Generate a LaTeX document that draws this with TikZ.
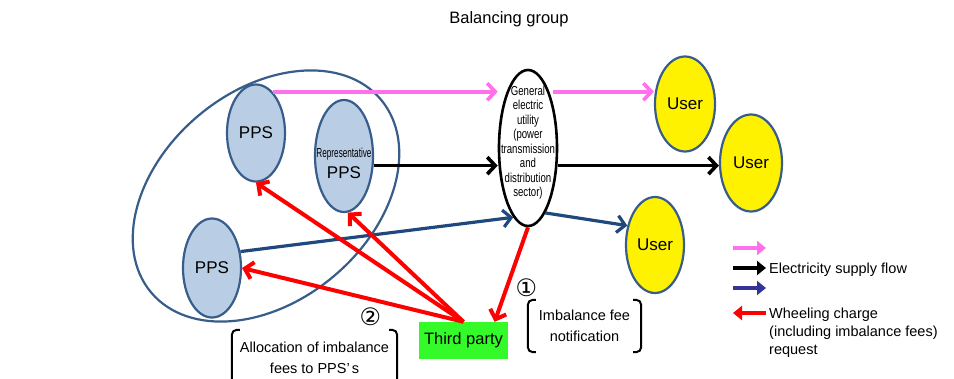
\documentclass[tikz,border=0pt]{standalone}
\usepackage{graphicx}
\usepackage{fontspec}
\setmainfont{Liberation Sans}
\newfontfamily\symfont{DejaVu Sans}
\usetikzlibrary{shapes.geometric,arrows.meta,calc}
\definecolor{pinkA}{RGB}{255,112,235}
\definecolor{navyA}{RGB}{31,73,125}
\definecolor{legblue}{RGB}{51,51,153}
\definecolor{ppsfill}{RGB}{185,205,228}
\definecolor{edgeblue}{RGB}{56,93,138}
\definecolor{tpgreen}{RGB}{51,250,40}
\definecolor{redA}{RGB}{255,0,0}
\newcommand{\zb}[1]{\makebox[0pt]{\smash{#1}}}
\begin{document}
\begin{tikzpicture}[x=1pt,y=-1pt,
  ell/.style={ellipse, draw=edgeblue, line width=2.2pt, inner sep=0pt},
  pps/.style={ell, fill=ppsfill, minimum width=58pt, minimum height=97pt, font=\fontsize{17}{20}\selectfont},
  user/.style={ell, fill=yellow, minimum width=60pt, minimum height=95pt, font=\fontsize{17}{20}\selectfont},
  flow/.style={line width=3.6pt, -{Straight Barb[length=8pt,width=17pt]}},
  redflow/.style={flow, draw=redA, line width=4pt},
  legarrow/.style={line width=3.4pt, -{Triangle[length=9pt,width=14pt]}},
  brk/.style={line width=2pt, rounded corners=5pt},
  txt/.style={inner sep=0pt, font=\fontsize{14.5}{21}\selectfont},
  circnum/.style={inner sep=0pt, font=\symfont\fontsize{24}{26}\selectfont}
]
\useasboundingbox[fill=white] (0,0) rectangle (954,378);

% title
\node[txt, anchor=base, font=\fontsize{16.5}{20}\selectfont] (title) at (509,23) {Balancing group};

% balancing group ellipse
\node[ellipse, draw=edgeblue, line width=2.2pt, minimum width=300pt, minimum height=210pt,
      inner sep=0pt, rotate=40] (grp) at (266,196) {};

% nodes
\node[pps] (pps1) at (256,133) {PPS};
\node[pps, minimum height=112pt] (rep) at (344,156)
  {\zb{\raisebox{-1pt}{\scalebox{0.63}[1]{\fontsize{13}{14}\selectfont Representative}}}\zb{\raisebox{-22pt}{PPS}}};
\node[pps, minimum height=99pt] (pps3) at (212,268) {PPS};
\node[ell, draw=black, fill=white, line width=2.6pt, minimum width=58pt, minimum height=156pt] (util) at (528,148)
  {\zb{\raisebox{2pt}{\scalebox{0.74}[1]{\fontsize{13}{14.5}\selectfont
    \begin{tabular}{@{}c@{}}General\\electric\\utility\\(power\\transmission\\and\\distribution\\sector)\end{tabular}}}}};
\node[user] (user1) at (685,104) {User};
\node[user, minimum width=62pt, minimum height=97pt] (user2) at (751,163) {User};
\node[user, minimum width=58pt, minimum height=96pt] (user3) at (655,245) {User};
\node[fill=tpgreen, minimum width=89pt, minimum height=37pt, inner sep=0pt,
      font=\fontsize{16.5}{20}\selectfont] (tp) at (463.5,340.5) {Third party};

% pink flow
\path (pps1.68) coordinate (pk);
\draw[flow, pinkA] (pk) -- (pk -| util.west);
\draw[flow, pinkA, shorten <=-5pt] (util.east |- pk) -- (user1.west |- pk);
% black flow
\path (rep.-18) coordinate (bk);
\draw[flow, black] (bk) -- (bk -| util.west);
\draw[flow, black] (util.east |- bk) -- (user2.west |- bk);
% blue flow
\draw[flow, navyA, line width=3.2pt] (pps3.30) -- (util.258);
\draw[flow, navyA, line width=3.2pt] (util.-75) -- (user3.145);
% red
\draw[redflow] (util.south) -- (tp.31);
\draw[redflow] (tp.north) -- (pps1.south);
\draw[redflow] (tp.north) -- (rep.-86);
\draw[redflow] (tp.north) -- (pps3.east);

% circled numbers
\node[circnum] (c1) at (526.5,287.5) {①};
\node[circnum] (c2) at (370.5,316.5) {②};

% bracket notes
\node[txt, minimum width=113pt, minimum height=52pt, align=center] (note) at (584.5,326)
  {Imbalance fee\\notification};
\draw[brk] ([xshift=8pt]note.north west) -- (note.north west) -- (note.south west) -- ([xshift=8pt]note.south west);
\draw[brk] ([xshift=-8pt]note.north east) -- (note.north east) -- (note.south east) -- ([xshift=-8pt]note.south east);

\node[txt, minimum width=165pt, minimum height=56pt, align=center] (alloc) at (314.5,358)
  {Allocation of imbalance\\fees to PPS’\hspace{2pt}s};
\draw[brk] ([xshift=8pt]alloc.north west) -- (alloc.north west) -- (alloc.south west) -- ([xshift=8pt]alloc.south west);
\draw[brk] ([xshift=-8pt]alloc.north east) -- (alloc.north east) -- (alloc.south east) -- ([xshift=-8pt]alloc.south east);

% legend
\coordinate (la1) at (733,248); \coordinate (lb1) at (766,248);
\coordinate (la2) at (733,268); \coordinate (lb2) at (766,268);
\coordinate (la3) at (733,288); \coordinate (lb3) at (766,288);
\coordinate (la4) at (733,313); \coordinate (lb4) at (766,313);
\draw[legarrow, pinkA] (la1) -- (lb1);
\draw[legarrow, black] (la2) -- (lb2);
\draw[legarrow, legblue] (la3) -- (lb3);
\draw[legarrow, redA] (lb4) -- (la4);
\node[txt, anchor=base west] (leg1) at (769,273) {Electricity supply flow};
\node[txt, anchor=north west, align=left, font=\fontsize{14.5}{18}\selectfont] (leg2) at (769,307.5)
  {Wheeling charge\\(including imbalance fees)\\request};
\end{tikzpicture}
\end{document}
